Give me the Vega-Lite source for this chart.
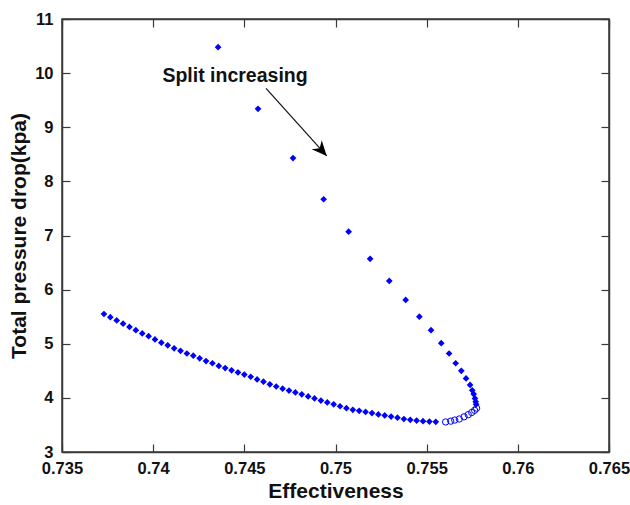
{
  "$schema": "https://vega.github.io/schema/vega-lite/v6.json",
  "width": 547,
  "height": 433,
  "autosize": "none",
  "padding": {"left": 62, "top": 19, "right": 21, "bottom": 53},
  "background": "white",
  "config": {
    "view": {"stroke": "#3a3a3a", "strokeWidth": 1.5},
    "axis": {
      "grid": false,
      "domainColor": "#3a3a3a",
      "domainWidth": 1.5,
      "tickColor": "#3a3a3a",
      "tickWidth": 1.2,
      "tickSize": -8,
      "labelFont": "Liberation Sans",
      "labelFontSize": 16.5,
      "labelFontWeight": "bold",
      "labelColor": "#111",
      "titleFont": "Liberation Sans",
      "titleFontSize": 21,
      "titleFontWeight": "bold",
      "titleColor": "#111"
    }
  },
  "datasets": {
    "pts": [
      {"x": 0.7373, "y": 5.55, "k": "d"},
      {"x": 0.73765, "y": 5.49, "k": "d"},
      {"x": 0.738, "y": 5.43, "k": "d"},
      {"x": 0.73835, "y": 5.37, "k": "d"},
      {"x": 0.7387, "y": 5.31, "k": "d"},
      {"x": 0.73905, "y": 5.25, "k": "d"},
      {"x": 0.7394, "y": 5.19, "k": "d"},
      {"x": 0.73975, "y": 5.14, "k": "d"},
      {"x": 0.7401, "y": 5.08, "k": "d"},
      {"x": 0.74045, "y": 5.02, "k": "d"},
      {"x": 0.7408, "y": 4.97, "k": "d"},
      {"x": 0.74115, "y": 4.915, "k": "d"},
      {"x": 0.7415, "y": 4.87, "k": "d"},
      {"x": 0.74185, "y": 4.82, "k": "d"},
      {"x": 0.7422, "y": 4.78, "k": "d"},
      {"x": 0.74255, "y": 4.73, "k": "d"},
      {"x": 0.7429, "y": 4.68, "k": "d"},
      {"x": 0.74325, "y": 4.64, "k": "d"},
      {"x": 0.7436, "y": 4.59, "k": "d"},
      {"x": 0.74395, "y": 4.55, "k": "d"},
      {"x": 0.7443, "y": 4.51, "k": "d"},
      {"x": 0.74465, "y": 4.47, "k": "d"},
      {"x": 0.745, "y": 4.43, "k": "d"},
      {"x": 0.74535, "y": 4.39, "k": "d"},
      {"x": 0.7457, "y": 4.34, "k": "d"},
      {"x": 0.74605, "y": 4.3, "k": "d"},
      {"x": 0.7464, "y": 4.25, "k": "d"},
      {"x": 0.74675, "y": 4.21, "k": "d"},
      {"x": 0.7471, "y": 4.17, "k": "d"},
      {"x": 0.74745, "y": 4.135, "k": "d"},
      {"x": 0.7478, "y": 4.1, "k": "d"},
      {"x": 0.74815, "y": 4.065, "k": "d"},
      {"x": 0.7485, "y": 4.027, "k": "d"},
      {"x": 0.74885, "y": 3.99, "k": "d"},
      {"x": 0.7492, "y": 3.95, "k": "d"},
      {"x": 0.74955, "y": 3.915, "k": "d"},
      {"x": 0.7499, "y": 3.88, "k": "d"},
      {"x": 0.75025, "y": 3.845, "k": "d"},
      {"x": 0.7506, "y": 3.81, "k": "d"},
      {"x": 0.75095, "y": 3.78, "k": "d"},
      {"x": 0.7513, "y": 3.76, "k": "d"},
      {"x": 0.75165, "y": 3.74, "k": "d"},
      {"x": 0.752, "y": 3.72, "k": "d"},
      {"x": 0.75235, "y": 3.695, "k": "d"},
      {"x": 0.7527, "y": 3.675, "k": "d"},
      {"x": 0.75305, "y": 3.655, "k": "d"},
      {"x": 0.7534, "y": 3.635, "k": "d"},
      {"x": 0.75375, "y": 3.61, "k": "d"},
      {"x": 0.7541, "y": 3.595, "k": "d"},
      {"x": 0.75445, "y": 3.58, "k": "d"},
      {"x": 0.7548, "y": 3.57, "k": "d"},
      {"x": 0.75515, "y": 3.563, "k": "d"},
      {"x": 0.7555, "y": 3.557, "k": "d"},
      {"x": 0.75604, "y": 3.555, "k": "o"},
      {"x": 0.75632, "y": 3.57, "k": "o"},
      {"x": 0.75654, "y": 3.59, "k": "o"},
      {"x": 0.75679, "y": 3.61, "k": "o"},
      {"x": 0.75705, "y": 3.65, "k": "o"},
      {"x": 0.75728, "y": 3.69, "k": "o"},
      {"x": 0.75747, "y": 3.73, "k": "o"},
      {"x": 0.75763, "y": 3.77, "k": "o"},
      {"x": 0.75774, "y": 3.81, "k": "o"},
      {"x": 0.75771, "y": 3.88, "k": "d"},
      {"x": 0.75769, "y": 3.93, "k": "d"},
      {"x": 0.75765, "y": 3.99, "k": "d"},
      {"x": 0.75758, "y": 4.07, "k": "d"},
      {"x": 0.7575, "y": 4.14, "k": "d"},
      {"x": 0.75738, "y": 4.24, "k": "d"},
      {"x": 0.75716, "y": 4.36, "k": "d"},
      {"x": 0.7569, "y": 4.5, "k": "d"},
      {"x": 0.75659, "y": 4.64, "k": "d"},
      {"x": 0.75623, "y": 4.82, "k": "d"},
      {"x": 0.7558, "y": 5.01, "k": "d"},
      {"x": 0.75524, "y": 5.25, "k": "d"},
      {"x": 0.7546, "y": 5.5, "k": "d"},
      {"x": 0.75385, "y": 5.81, "k": "d"},
      {"x": 0.75295, "y": 6.16, "k": "d"},
      {"x": 0.7519, "y": 6.57, "k": "d"},
      {"x": 0.75072, "y": 7.07, "k": "d"},
      {"x": 0.74935, "y": 7.67, "k": "d"},
      {"x": 0.74767, "y": 8.43, "k": "d"},
      {"x": 0.74575, "y": 9.34, "k": "d"},
      {"x": 0.74356, "y": 10.48, "k": "d"}
    ],
    "arrow": [
      {"x": 0.74619, "y": 9.72, "x2": 0.74952, "y2": 8.47, "label": "Split increasing", "tx": 0.74449, "ty": 9.84}
    ]
  },
  "layer": [
    {
      "data": {"name": "pts"},
      "transform": [{"filter": "datum.k === 'd'"}],
      "mark": {"type": "point", "shape": "diamond", "filled": true, "color": "#0000ff", "size": 45, "opacity": 1},
      "encoding": {
        "x": {
          "field": "x", "type": "quantitative",
          "scale": {"domain": [0.735, 0.765], "nice": false, "zero": false},
          "axis": {
            "orient": "bottom",
            "values": [0.735, 0.74, 0.745, 0.75, 0.755, 0.76, 0.765],
            "format": "~g",
            "labelPadding": 16,
            "labelFlush": false,
            "labelFontWeight": "bold",
            "title": "Effectiveness",
            "titleBaseline": "alphabetic",
            "titleY": 45
          }
        },
        "y": {
          "field": "y", "type": "quantitative",
          "scale": {"domain": [3, 11], "nice": false, "zero": false},
          "axis": {
            "orient": "left",
            "values": [3, 4, 5, 6, 7, 8, 9, 10, 11],
            "labelPadding": 17,
            "labelFlush": false,
            "labelFontWeight": "bold",
            "title": "Total pressure drop(kpa)",
            "titleBaseline": "alphabetic",
            "titleX": -37
          }
        }
      }
    },
    {
      "data": {"name": "pts"},
      "transform": [{"filter": "datum.k === 'o'"}],
      "mark": {"type": "point", "shape": "circle", "filled": false, "color": "#0000ff", "size": 40, "strokeWidth": 1, "opacity": 1},
      "encoding": {
        "x": {
          "field": "x", "type": "quantitative",
          "axis": {"orient": "top", "values": [0.735, 0.74, 0.745, 0.75, 0.755, 0.76, 0.765], "labels": false, "title": null}
        },
        "y": {
          "field": "y", "type": "quantitative",
          "axis": {"orient": "right", "values": [3, 4, 5, 6, 7, 8, 9, 10, 11], "labels": false, "title": null}
        }
      }
    },
    {
      "data": {"name": "arrow"},
      "mark": {"type": "rule", "color": "#111", "strokeWidth": 1.2},
      "encoding": {
        "x": {"field": "x", "type": "quantitative", "axis": null},
        "y": {"field": "y", "type": "quantitative", "axis": null},
        "x2": {"field": "x2"},
        "y2": {"field": "y2"}
      }
    },
    {
      "data": {"name": "arrow"},
      "mark": {"type": "point", "shape": "M0,0L0.45,1L0,0.7L-0.45,1Z", "filled": true, "color": "#000", "size": 900, "angle": 138, "opacity": 1},
      "encoding": {
        "x": {"field": "x2", "type": "quantitative", "axis": null},
        "y": {"field": "y2", "type": "quantitative", "axis": null}
      }
    },
    {
      "data": {"name": "arrow"},
      "mark": {"type": "text", "font": "Liberation Sans", "fontSize": 19.5, "fontWeight": "bold", "color": "#111", "align": "center", "baseline": "alphabetic"},
      "encoding": {
        "x": {"field": "tx", "type": "quantitative", "axis": null},
        "y": {"field": "ty", "type": "quantitative", "axis": null},
        "text": {"field": "label"}
      }
    }
  ],
  "resolve": {"axis": {"x": "independent", "y": "independent"}}
}
